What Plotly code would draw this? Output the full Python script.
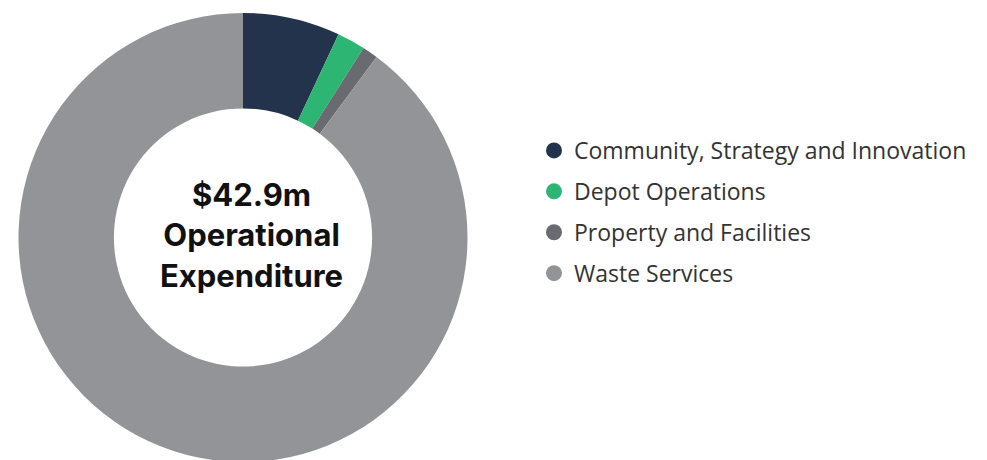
import plotly.graph_objects as go

categories = ["Community, Strategy and Innovation", "Depot Operations",
              "Property and Facilities", "Waste Services"]
values = [3.0, 0.87, 0.48, 38.55]
colors = ["#22334b", "#2db673", "#6a6b70", "#939497"]
center_title = "$42.9m"
center_sub = ["Operational", "Expenditure"]

W, H = 987, 460
fig = go.Figure()
fig.add_trace(go.Pie(
    labels=categories, values=values, hole=0.575, sort=False,
    direction="clockwise", rotation=0,
    marker=dict(colors=colors, line=dict(width=0)),
    textinfo="none", hoverinfo="label+value", showlegend=False,
    domain=dict(x=[10 / W, 460 / W], y=[6 / H, 455 / H]),
))
for i, (c, col) in enumerate(zip(categories, colors)):
    fig.add_trace(go.Scatter(
        x=[None], y=[None], mode="markers", name=c, legendgroup=f"g{i}",
        marker=dict(symbol="circle", size=18, color=col),
        showlegend=True,
    ))

fig.add_annotation(
    x=243 / W, y=1 - 227 / H, xref="paper", yref="paper",
    xanchor="center", yanchor="middle",
    text="<b>" + center_title + "</b><br><b>" + center_sub[0] + "</b><br><b>" + center_sub[1] + "</b>",
    showarrow=False, align="center",
    font=dict(family="Inter", size=31, color="#111111"),
)

fig.update_layout(
    width=W, height=H, margin=dict(l=0, r=0, t=0, b=0),
    paper_bgcolor="white", plot_bgcolor="white",
    xaxis=dict(visible=False), yaxis=dict(visible=False),
    legend=dict(x=526 / W, y=1 - 121 / H, xanchor="left", yanchor="top",
                font=dict(family="Open Sans", size=23, color="#333333"),
                itemsizing="trace", tracegroupgap=8),
)
fig.write_html("out.html")
